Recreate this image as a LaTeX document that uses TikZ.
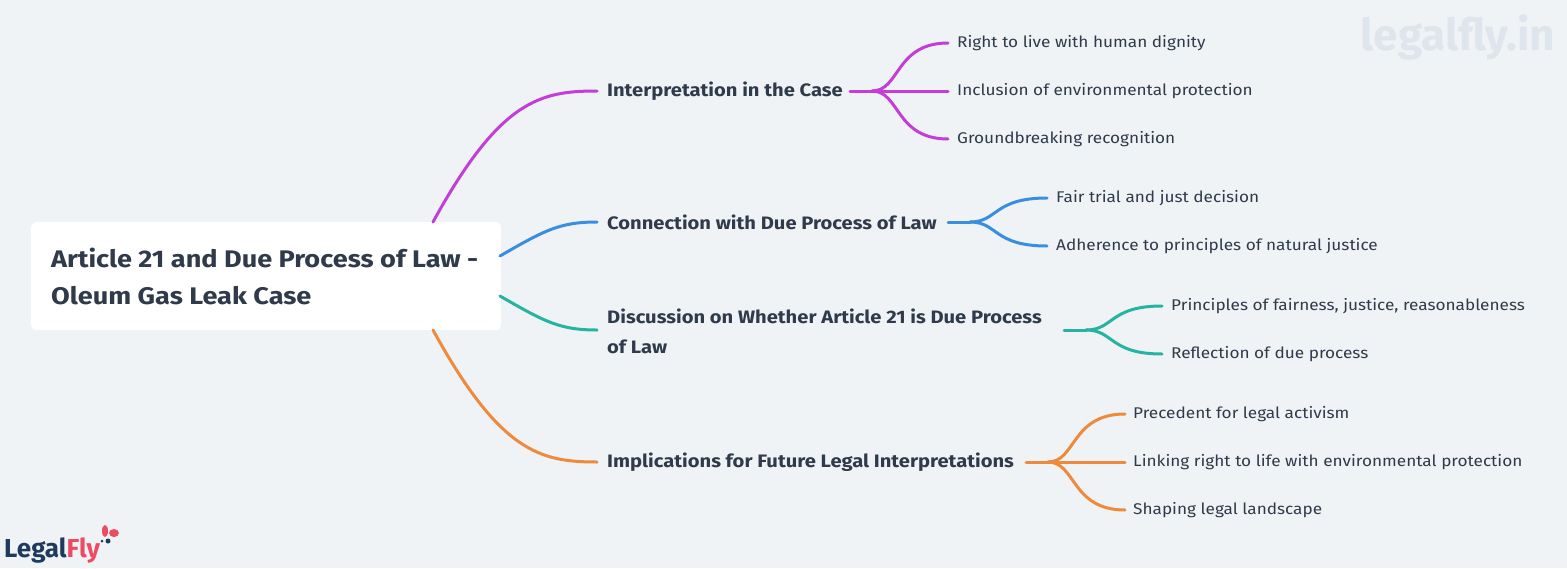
\documentclass[tikz,border=0pt]{standalone}
\usepackage{fontspec}
\setmainfont{Fira Sans}
\newfontfamily\wideA[FakeStretch=1.12]{Fira Sans}
\newfontfamily\wideR[FakeStretch=1.13]{Fira Sans}
\newfontfamily\wideB[FakeStretch=1.11]{Fira Sans}
\definecolor{bg}{HTML}{EFF3F6}
\definecolor{txt}{HTML}{2F3A4A}
\definecolor{cM}{HTML}{C23ED6}
\definecolor{cB}{HTML}{3A8EE0}
\definecolor{cT}{HTML}{27B3A1}
\definecolor{cO}{HTML}{EF893C}
\definecolor{wm}{HTML}{DFE5EC}
\definecolor{navy}{HTML}{1E3A5C}
\definecolor{pinkc}{HTML}{EE4B63}
\begin{document}
\begin{tikzpicture}[x=1pt,y=-1pt,
  lone/.style={anchor=west,font=\wideA\bfseries\fontsize{18}{30}\selectfont,text=txt,inner sep=0pt,align=left},
  leaf/.style={anchor=west,font=\wideB\fontsize{15.5}{18}\selectfont,text=txt,inner sep=0pt},
  br/.style={line width=3pt,line cap=round}]
\fill[bg] (0,0) rectangle (1567,568);
\useasboundingbox (0,0) rectangle (1567,568);
\node[wm,anchor=east,font=\bfseries\fontsize{44}{44}\selectfont,inner sep=0pt] (wmk) at (1555,38) {legalfly.in};
\node[fill=white,rounded corners=5pt,minimum width=470pt,minimum height=108pt,anchor=north west,inner sep=0pt] (root) at (31,222) {};
\node[anchor=west,font=\wideR\bfseries\fontsize{24}{37}\selectfont,text=txt,align=left,inner sep=0pt] (roott) at (51,276) {Article 21 and Due Process of Law -\\Oleum Gas Leak Case};
\node[lone] (a) at (607,91) {Interpretation in the Case};
\node[lone] (b) at (607,222) {Connection with Due Process of Law};
\node[lone] (c) at (607,331) {Discussion on Whether Article 21 is Due Process\\of Law};
\node[lone] (d) at (607,462) {Implications for Future Legal Interpretations};
\coordinate (ra) at (433,222); \coordinate (rb) at (500,256);
\coordinate (rc) at (500,296); \coordinate (rd) at (433,330);
\draw[br,cM] (ra) .. controls (500,100) and (540,91) .. (597,91);
\draw[br,cB] (rb) .. controls (545,230) and (560,222) .. (597,222);
\draw[br,cT] (rc) .. controls (545,322) and (560,330) .. (597,330);
\draw[br,cO] (rd) .. controls (500,452) and (540,462) .. (597,462);
\node[leaf] (a1) at (957,43) {Right to live with human dignity};
\node[leaf] (a2) at (957,91) {Inclusion of environmental protection};
\node[leaf] (a3) at (957,139) {Groundbreaking recognition};
\node[leaf] (b1) at (1056,198) {Fair trial and just decision};
\node[leaf] (b2) at (1056,246) {Adherence to principles of natural justice};
\node[leaf] (c1) at (1171,306) {Principles of fairness, justice, reasonableness};
\node[leaf] (c2) at (1171,354) {Reflection of due process};
\node[leaf] (d1) at (1133,414) {Precedent for legal activism};
\node[leaf] (d2) at (1133,462) {Linking right to life with environmental protection};
\node[leaf] (d3) at (1133,510) {Shaping legal landscape};
\foreach \s/\e/\y/\col/\list in {850/948/91/cM/{43,91,139},948/1047/222/cB/{198,246},1064/1162/330/cT/{306,354},1026/1125/462/cO/{414,462,510}}{
  \draw[br,\col] (\s,\y) -- (\s+22,\y);
  \foreach \t in \list {
    \draw[br,\col] (\s+22,\y) .. controls (\s+50,\y) and (\s+45,\t) .. (\e,\t);
  }
}
\node[anchor=west,font=\bfseries\fontsize{26}{26}\selectfont,inner sep=0pt] (logo) at (4,551) {\textcolor{navy}{Legal}\textcolor{pinkc}{Fly}};
\fill[pinkc] (105,531) ellipse (3pt and 6pt);
\fill[pinkc] (114,533) ellipse (5pt and 4pt);
\fill[navy] (108,541) circle (2.5pt);
\fill[navy] (102,541) circle (1.5pt);
\end{tikzpicture}
\end{document}
